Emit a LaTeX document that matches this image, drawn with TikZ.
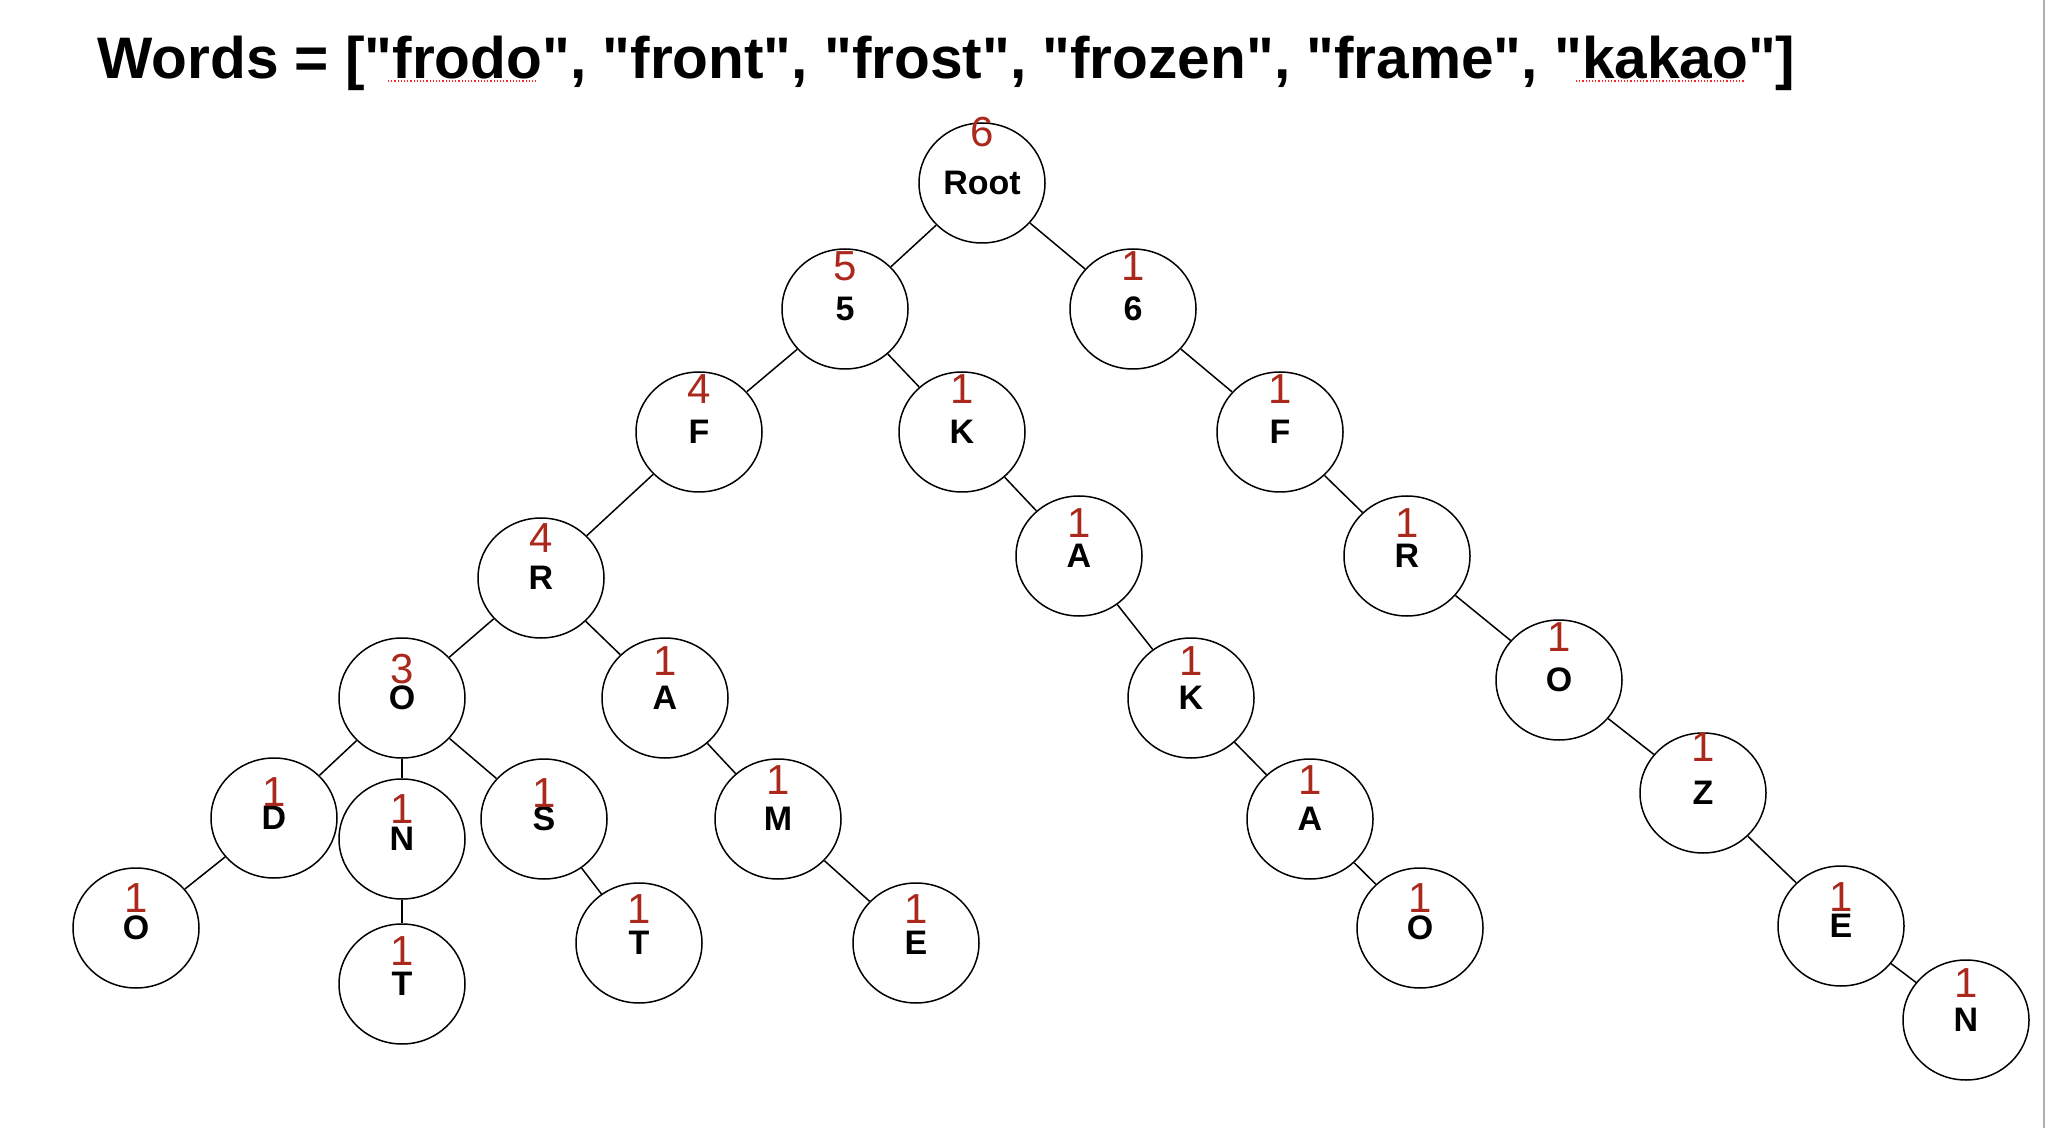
\documentclass[tikz,border=0pt]{standalone}
\usepackage{fontspec}
\setmainfont{Liberation Sans}[Ligatures=TeXOff]
\usepackage{xcolor}
\usetikzlibrary{shapes.geometric}
\definecolor{cntred}{RGB}{170,40,28}
\definecolor{pagegray}{RGB}{175,175,175}

\begin{document}
\begin{tikzpicture}[x=0.5pt, y=-0.5pt,
    trie/.style={ellipse, draw, line width=0.75pt, minimum width=63pt, minimum height=60pt, inner sep=0pt,
                 font=\fontsize{17}{20}\selectfont\bfseries},
    cnt/.style={text=cntred, inner sep=0pt, font=\fontsize{21}{25}\selectfont},
    link/.style={line width=0.75pt}]
  \useasboundingbox (0,0) rectangle (2046,1128);
  \draw[pagegray, line width=1pt] (2044,0) -- (2044,1128);

  % title
  \node[anchor=base west, inner sep=0pt, font=\fontsize{29.3}{34}\selectfont\bfseries] (title) at (97,79)
    {Words = ["frodo", "front", "frost", "frozen", "frame", "kakao"]};
  \draw[red!85, densely dotted, line width=0.6pt] (388,81) -- (537,81);
  \draw[red!85, densely dotted, line width=0.6pt] (1576,81) -- (1745,81);

  % levels 0-2
  \node[trie, label={[cnt,yshift=25.5pt]center:6}] (root) at (982,183) {Root};
  \node[trie, label={[cnt,yshift=21.5pt]center:5}] (n5) at (845,309) {5};
  \node[trie, label={[cnt,yshift=21.5pt]center:1}] (n6) at (1133,309) {6};
  \node[trie, label={[cnt,yshift=21.5pt]center:4}] (f1) at (699,432) {F};
  \node[trie, label={[cnt,yshift=21.5pt]center:1}] (k1) at (962,432) {K};
  \node[trie, label={[cnt,yshift=21.5pt]center:1}] (f2) at (1280,432) {F};

  % fr...
  \node[trie, label={[cnt,yshift=20pt]center:4}] (r1) at (541,578) {R};
  \node[trie, label={[cnt,yshift=14.5pt]center:3}] (o1) at (402,698) {O};
  \node[trie, label={[cnt,yshift=18.5pt]center:1}] (a1) at (665,698) {A};
  \node[trie, label={[cnt,yshift=13pt]center:1}] (d1) at (274,818) {D};
  \node[trie, label={[cnt,yshift=15pt]center:1}] (nn1) at (402,839) {N};
  \node[trie, label={[cnt,yshift=13pt]center:1}] (s1) at (544,819) {S};
  \node[trie, label={[cnt,yshift=19.5pt]center:1}] (m1) at (778,819) {M};
  \node[trie, label={[cnt,yshift=15pt]center:1}] (o2) at (136,928) {O};
  \node[trie, label={[cnt,yshift=16.5pt]center:1}] (t1) at (402,984) {T};
  \node[trie, label={[cnt,yshift=17pt]center:1}] (t2) at (639,943) {T};
  \node[trie, label={[cnt,yshift=17pt]center:1}] (e1) at (916,943) {E};

  % kakao
  \node[trie, label={[cnt,yshift=16.5pt]center:1}] (a2) at (1079,556) {A};
  \node[trie, label={[cnt,yshift=18.5pt]center:1}] (k2) at (1191,698) {K};
  \node[trie, label={[cnt,yshift=19.5pt]center:1}] (a3) at (1310,819) {A};
  \node[trie, label={[cnt,yshift=15pt]center:1}] (o4) at (1420,928) {O};

  % frozen
  \node[trie, label={[cnt,yshift=16.5pt]center:1}] (r2) at (1407,556) {R};
  \node[trie, label={[cnt,yshift=21.5pt]center:1}] (o3) at (1559,680) {O};
  \node[trie, label={[cnt,yshift=23pt]center:1}] (z1) at (1703,793) {Z};
  \node[trie, label={[cnt,yshift=14.5pt]center:1}] (e2) at (1841,926) {E};
  \node[trie, label={[cnt,yshift=18.5pt]center:1}] (nn2) at (1966,1020) {N};

  % edges
  \foreach \a/\b in {root/n5, root/n6, n5/f1, n5/k1, n6/f2,
                     f1/r1, r1/o1, r1/a1, o1/d1, o1/nn1, o1/s1, d1/o2, nn1/t1, s1/t2, a1/m1, m1/e1,
                     k1/a2, a2/k2, k2/a3, a3/o4,
                     f2/r2, r2/o3, o3/z1, z1/e2, e2/nn2}
    \draw[link] (\a) -- (\b);
\end{tikzpicture}
\end{document}
